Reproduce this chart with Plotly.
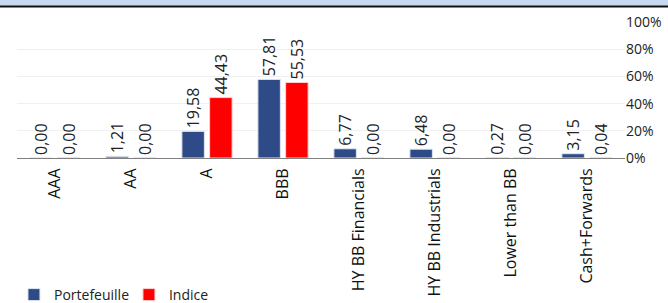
import plotly.graph_objects as go

categories = ["AAA", "AA", "A", "BBB", "HY BB Financials", "HY BB Industrials", "Lower than BB", "Cash+Forwards"]
portefeuille = [0.00, 1.21, 19.58, 57.81, 6.77, 6.48, 0.27, 3.15]
indice = [0.00, 0.00, 44.43, 55.53, 0.00, 0.00, 0.00, 0.04]
y_ticks = [0, 20, 40, 60, 80, 100]

def fmt(v):
    return f"{v:.2f}".replace(".", ",")

FONT = "Open Sans, Noto Sans, sans-serif"

fig = go.Figure()
fig.add_bar(x=categories, y=portefeuille, name="Portefeuille",
            marker=dict(color="#2e4b87", line=dict(color="#dfe6f2", width=1)),
            text=[fmt(v) for v in portefeuille], textposition="outside",
            textangle=-90, textfont=dict(size=16, color="#222", family=FONT),
            constraintext="none", cliponaxis=False)
fig.add_bar(x=categories, y=indice, name="Indice",
            marker=dict(color="#ff0000", line=dict(color="#ffd0d0", width=1)),
            text=[fmt(v) for v in indice], textposition="outside",
            textangle=-90, textfont=dict(size=16, color="#222", family=FONT),
            constraintext="none", cliponaxis=False)

H = 303
t, b = 22, 145
ph = H - t - b

fig.update_layout(
    width=668, height=303,
    margin=dict(l=17, r=43, t=t, b=b, autoexpand=False),
    paper_bgcolor="white", plot_bgcolor="white",
    barmode="group", bargap=0.27, bargroupgap=0.19,
    font=dict(family=FONT, size=13, color="#222"),
    showlegend=True,
    legend=dict(orientation="h", x=-0.005, xanchor="left", y=(t + ph - 295) / ph,
                yanchor="middle", font=dict(size=14, color="#222"),
                itemwidth=30, tracegroupgap=0, entrywidth=70, entrywidthmode="pixels"),
    xaxis=dict(tickangle=-90, showgrid=False, showline=True, linecolor="#808080",
               linewidth=1, ticks="", tickfont=dict(size=16, color="#111"),
               ticklabelstandoff=3, automargin=False),
    yaxis=dict(side="right", range=[0, 100], tickvals=y_ticks,
               ticktext=[f"{v}%" for v in y_ticks], showgrid=True,
               gridcolor="#f0f0f0", gridwidth=1, zeroline=False, showline=False,
               tickfont=dict(size=14, color="#222"), ticklabelstandoff=0,
               automargin=False),
    shapes=[
        dict(type="rect", xref="paper", yref="paper", x0=-0.05, x1=1.1,
             y0=1 + (t - 6) / ph, y1=1 + (t + 4) / ph,
             fillcolor="#c6d9f1", line=dict(width=0), layer="above"),
        dict(type="line", xref="paper", yref="paper", x0=-0.05, x1=1.1,
             y0=1 + (t - 6.5) / ph, y1=1 + (t - 6.5) / ph,
             line=dict(color="#111", width=2)),
    ],
)

fig.write_html("out.html", config={"displayModeBar": False},
               post_script="document.body.style.margin='0px';document.body.style.overflow='hidden';")
